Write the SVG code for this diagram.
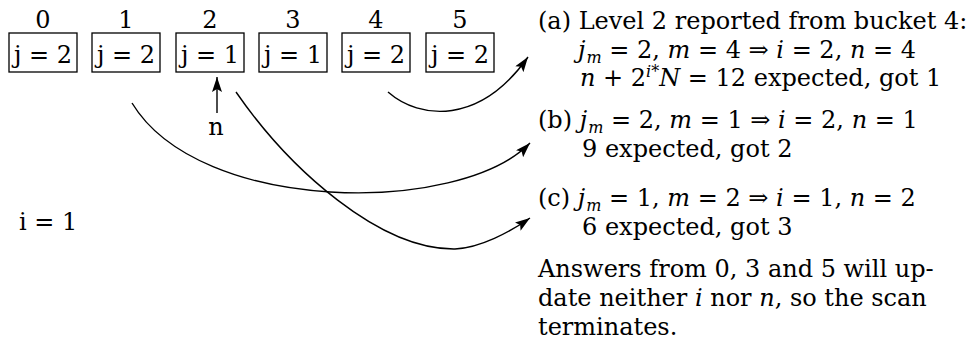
<svg xmlns="http://www.w3.org/2000/svg" width="970" height="347" viewBox="0 0 970 347">
<style>
text{font-family:"DejaVu Serif","Liberation Serif",serif;font-size:24px;fill:#000}
.it{font-style:italic}
.sm{font-size:16px}
.lbl{text-anchor:middle}
.box{fill:#fff;stroke:#000;stroke-width:1.3}
.conn{fill:none;stroke:#000;stroke-width:1.4}
</style>
<defs>
<marker id="ah" markerUnits="userSpaceOnUse" markerWidth="16" markerHeight="10" refX="15" refY="5" orient="auto">
<path d="M0,0 L15,5 L0,10 L3,5 Z" fill="#000"/>
</marker>
</defs>
<rect width="970" height="347" fill="#fff"/>
<g id="b0"><text class="lbl" x="43" y="28">0</text><rect class="box" x="9" y="33" width="68" height="39"/><text class="lbl" x="43" y="63">j = 2</text></g>
<g id="b1"><text class="lbl" x="126" y="28">1</text><rect class="box" x="92" y="33" width="68" height="39"/><text class="lbl" x="126" y="63">j = 2</text></g>
<g id="b2"><text class="lbl" x="210" y="28">2</text><rect class="box" x="176" y="33" width="68" height="39"/><text class="lbl" x="210" y="63">j = 1</text></g>
<g id="b3"><text class="lbl" x="293" y="28">3</text><rect class="box" x="259" y="33" width="68" height="39"/><text class="lbl" x="293" y="63">j = 1</text></g>
<g id="b4"><text class="lbl" x="376" y="28">4</text><rect class="box" x="342" y="33" width="68" height="39"/><text class="lbl" x="376" y="63">j = 2</text></g>
<g id="b5"><text class="lbl" x="460" y="28">5</text><rect class="box" x="426" y="33" width="68" height="39"/><text class="lbl" x="460" y="63">j = 2</text></g>
<g id="nlabel"><text class="lbl" x="216" y="135">n</text></g>
<g id="ilabel"><text x="19" y="230">i = 1</text></g>
<g id="connectors">
<path class="conn" d="M217,113 L217,77" marker-end="url(#ah)"/>
<path class="conn" d="M388,92 C420,120 480,125 528,57" marker-end="url(#ah)"/>
<path class="conn" d="M132,103 C200,215 460,215 530,143" marker-end="url(#ah)"/>
<path class="conn" d="M236,92 C290,170 380,250 455,249 C480,248 510,232 530,218" marker-end="url(#ah)"/>
</g>
<g id="notes">
<text x="538" y="29">(a) Level 2 reported from bucket 4:</text>
<text x="578" y="58"><tspan class="it">j</tspan><tspan class="it sm" dx="1" dy="5">m</tspan><tspan dy="-5"> = 2, </tspan><tspan class="it">m</tspan> = 4 ⇒ <tspan class="it">i</tspan> = 2, <tspan class="it">n</tspan> = 4</text>
<text x="580" y="86"><tspan class="it">n</tspan> + 2<tspan class="it sm" dy="-9">i</tspan><tspan class="sm">*</tspan><tspan class="it" dy="9">N</tspan> = 12 expected, got 1</text>
<text x="538" y="128">(b) <tspan class="it">j</tspan><tspan class="it sm" dx="1" dy="5">m</tspan><tspan dy="-5"> = 2, </tspan><tspan class="it">m</tspan> = 1 ⇒ <tspan class="it">i</tspan> = 2, <tspan class="it">n</tspan> = 1</text>
<text x="582" y="157">9 expected, got 2</text>
<text x="538" y="206">(c) <tspan class="it">j</tspan><tspan class="it sm" dx="1" dy="5">m</tspan><tspan dy="-5"> = 1, </tspan><tspan class="it">m</tspan> = 2 ⇒ <tspan class="it">i</tspan> = 1, <tspan class="it">n</tspan> = 2</text>
<text x="582" y="235">6 expected, got 3</text>
<text x="538" y="277">Answers from 0, 3 and 5 will up-</text>
<text x="538" y="306">date neither <tspan class="it">i</tspan> nor <tspan class="it">n</tspan>, so the scan</text>
<text x="538" y="335">terminates.</text>
</g>
</svg>
